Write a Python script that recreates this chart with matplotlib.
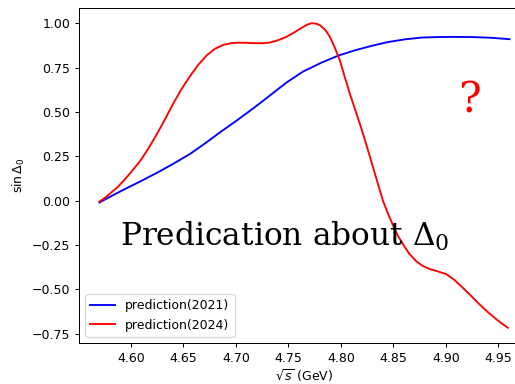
import matplotlib.pyplot as plt
import numpy as np

# sin(Delta_0) predictions vs sqrt(s)
x_2021 = [4.570, 4.580, 4.593, 4.610, 4.6247, 4.640, 4.6564, 4.6722, 4.685,
          4.7008, 4.718, 4.7324, 4.748, 4.764, 4.7816, 4.7973, 4.8132, 4.829,
          4.8449, 4.8608, 4.8766, 4.8925, 4.9083, 4.925, 4.943, 4.9606]
y_2021 = [-0.010, 0.022, 0.062, 0.112, 0.157, 0.207, 0.264, 0.330, 0.386,
          0.452, 0.527, 0.593, 0.665, 0.728, 0.778, 0.817, 0.847, 0.872,
          0.894, 0.909, 0.919, 0.922, 0.923, 0.922, 0.918, 0.910]

x_2024 = [4.570, 4.575, 4.580, 4.587, 4.593, 4.600, 4.609, 4.617, 4.625, 4.633,
          4.6405, 4.648, 4.6564, 4.664, 4.6722, 4.680, 4.688, 4.695, 4.7008,
          4.709, 4.7166, 4.725, 4.7324, 4.740, 4.748, 4.756, 4.764, 4.768,
          4.772, 4.776, 4.780, 4.785, 4.7895, 4.794, 4.799, 4.8035, 4.8085,
          4.814, 4.8196, 4.825, 4.830, 4.835, 4.840, 4.845, 4.8496, 4.854,
          4.8591, 4.865, 4.8719, 4.878, 4.8845, 4.892, 4.9004, 4.908, 4.916,
          4.924, 4.932, 4.940, 4.948, 4.954, 4.959]
y_2024 = [-0.005, 0.015, 0.040, 0.075, 0.113, 0.160, 0.226, 0.298, 0.379, 0.465,
          0.550, 0.628, 0.703, 0.765, 0.819, 0.856, 0.878, 0.887, 0.890,
          0.890, 0.888, 0.887, 0.891, 0.904, 0.923, 0.950, 0.979, 0.992,
          1.000, 0.998, 0.989, 0.963, 0.923, 0.865, 0.791, 0.700, 0.603,
          0.505, 0.405, 0.300, 0.200, 0.100, 0.000, -0.075, -0.138, -0.195,
          -0.245, -0.298, -0.342, -0.368, -0.385, -0.398, -0.414, -0.446, -0.490,
          -0.536, -0.584, -0.628, -0.668, -0.695, -0.716]

fig = plt.figure(figsize=(515 / 90, 384 / 90), dpi=90)
ax = fig.add_axes([0.1534, 0.1068, 0.8757, 0.8724])

ax.plot(x_2021, y_2021, color='blue', label='prediction(2021)')
ax.plot(x_2024, y_2024, color='red', label='prediction(2024)')

ax.set_xlabel(r'$\sqrt{s}$ (GeV)', labelpad=2)
ax.set_ylabel(r'$\sin\Delta_0$')
ax.set_xticks([4.60, 4.65, 4.70, 4.75, 4.80, 4.85, 4.90, 4.95])
ax.set_yticks([-0.75, -0.50, -0.25, 0.00, 0.25, 0.50, 0.75, 1.00])

plt.rcParams['mathtext.fontset'] = 'dejavuserif'
ax.text(4.5899, -0.254, r'Predication about $\Delta_0$', family='DejaVu Serif',
        fontsize=25, color='black')
ax.text(4.9225, 0.565, '?', family='DejaVu Serif', fontsize=34, color='red',
        ha='center', va='center')

ax.legend(loc='lower left')

fig.savefig('out.png', dpi=90)
